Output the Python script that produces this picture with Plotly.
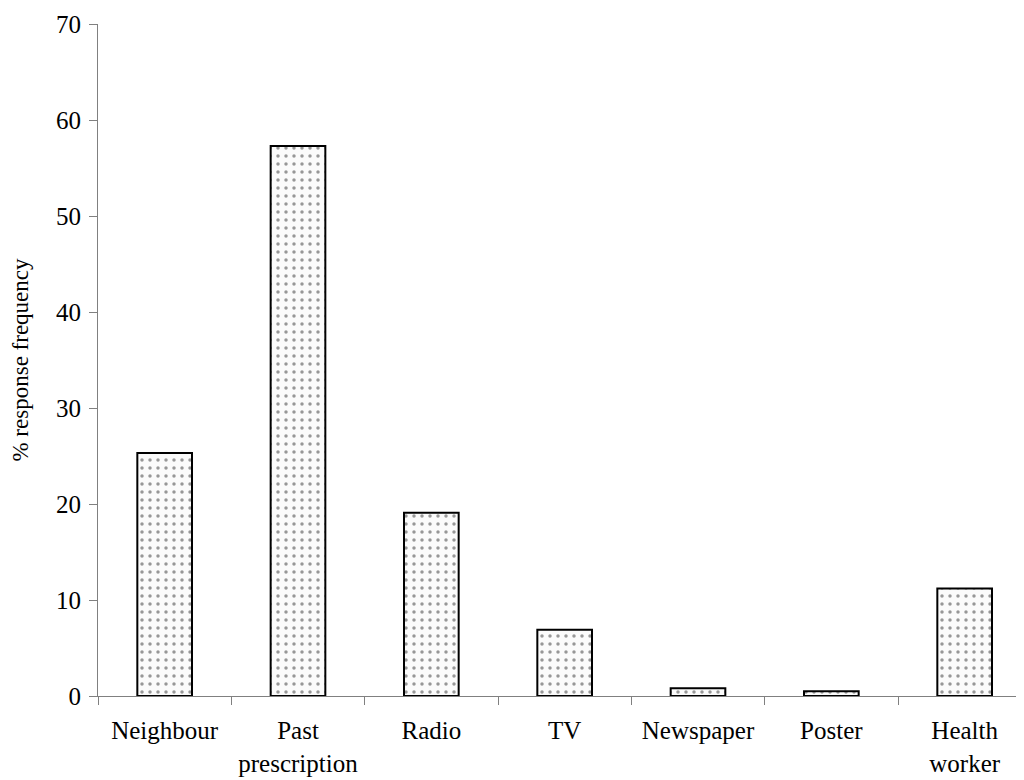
import plotly.graph_objects as go

categories = ["Neighbour", "Past<br>prescription", "Radio", "TV", "Newspaper", "Poster", "Health<br>worker"]
values = [25.3, 57.3, 19.1, 6.9, 0.8, 0.5, 11.2]

fig = go.Figure()
fig.add_trace(go.Bar(
    x=categories, y=values, width=0.41,
    marker=dict(color="#fbfbfb", line=dict(color="black", width=2),
                pattern=dict(shape=".", size=8, solidity=0.15, fgcolor="#333333", bgcolor="#fbfbfb")),
))

font = "Liberation Serif, Times New Roman, serif"
fs = 25
# page body has an 8px default margin, so the figure is offset by (8, 8)
fig.update_layout(
    width=1016, height=772,
    margin=dict(l=90, r=0, t=16, b=84),
    paper_bgcolor="white", plot_bgcolor="white",
    showlegend=False,
    font=dict(family=font, size=fs, color="black"),
)
fig.update_xaxes(
    type="category", range=[-0.5, 6.445], automargin=False,
    showline=True, linecolor="#808080", linewidth=1,
    ticks="outside", tickson="boundaries", ticklen=8, tickcolor="#808080",
    showgrid=False, zeroline=False,
    tickfont=dict(family=font, size=fs, color="black"),
    ticklabelstandoff=12,
)
fig.update_yaxes(
    range=[0, 70], dtick=10, automargin=False,
    showline=True, linecolor="#808080", linewidth=1,
    ticks="outside", ticklen=8, tickcolor="#808080",
    showgrid=False, zeroline=False,
    tickfont=dict(family=font, size=fs, color="black"),
    ticklabelstandoff=3,
    title=dict(text="% response frequency", font=dict(family=font, size=23, color="black"), standoff=24),
)
fig.write_html("out.html")
